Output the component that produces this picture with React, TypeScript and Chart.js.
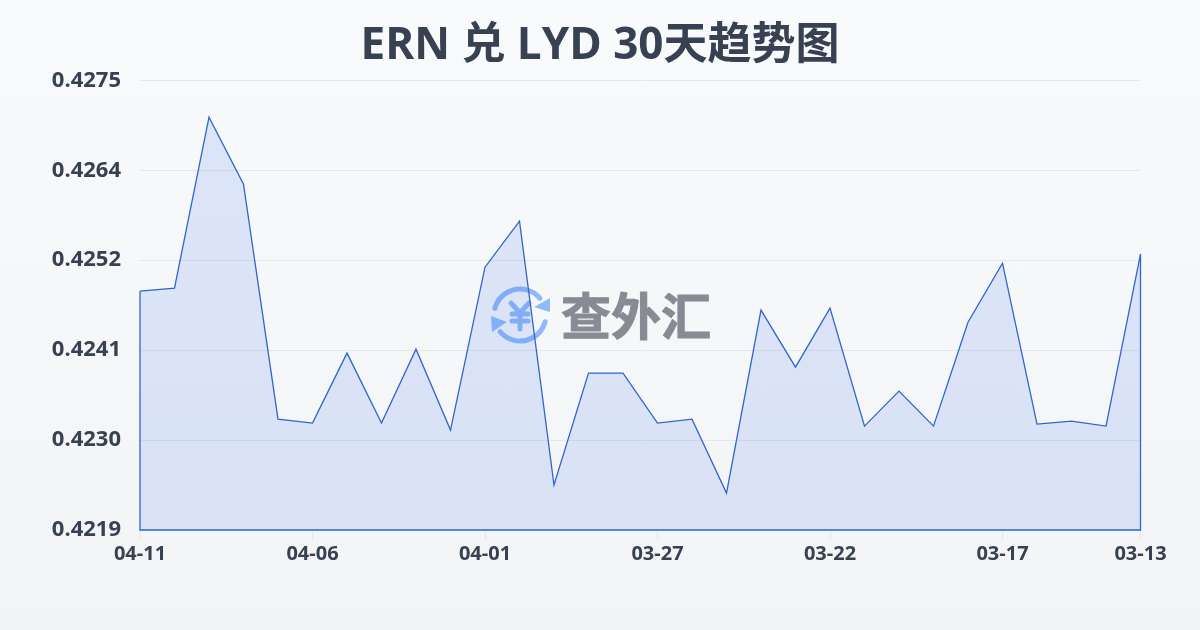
import React, { useEffect, useRef } from "react";
import { Chart, registerables } from "chart.js";

Chart.register(...registerables);

const titleText = "ERN 兑 LYD 30天趋势图";
const watermarkText = "查外汇";
const dates = [
  "04-11", "04-10", "04-09", "04-08", "04-07", "04-06", "04-05", "04-04", "04-03", "04-02",
  "04-01", "03-31", "03-30", "03-29", "03-28", "03-27", "03-26", "03-25", "03-24", "03-23",
  "03-22", "03-21", "03-20", "03-19", "03-18", "03-17", "03-16", "03-15", "03-14", "03-13",
];
const shownDates = ["04-11", "04-06", "04-01", "03-27", "03-22", "03-17", "03-13"];
const rates = [
  0.424874, 0.424912, 0.42704, 0.426206, 0.423281, 0.423232, 0.424103, 0.423232, 0.424152, 0.423144,
  0.425173, 0.425745, 0.42246, 0.423854, 0.423854, 0.423232, 0.423281, 0.42236, 0.424638, 0.423928,
  0.424663, 0.423194, 0.42363, 0.423194, 0.424488, 0.425223, 0.423219, 0.423256, 0.423194, 0.425335,
];
const yTickLabels = ["0.4219", "0.4230", "0.4241", "0.4252", "0.4264", "0.4275"];
const yMin = 0.4219;
const yMax = 0.4275;

const LATIN = '"Open Sans", "Noto Sans CJK SC", sans-serif';
const TEXT = "#374151";
const LINE = "#2f65cc";

const watermark = {
  id: "watermark",
  afterLayout(chart: any) {
    const t = chart.titleBlock;
    if (t) {
      t.left = 0;
      t.right = 1200;
      t.width = 1200;
    }
  },
  beforeDatasetsDraw(chart: any) {
    const c = chart.ctx;
    c.save();
    const cx = 520, cy = 315, r = 26;
    c.strokeStyle = "#8fb9f9";
    c.fillStyle = "#8fb9f9";
    c.lineWidth = 5;
    c.lineCap = "round";
    c.lineJoin = "round";
    c.beginPath();
    c.arc(cx, cy, r, (-165 * Math.PI) / 180, (-40 * Math.PI) / 180);
    c.stroke();
    c.beginPath();
    c.arc(cx, cy, r, (15 * Math.PI) / 180, (140 * Math.PI) / 180);
    c.stroke();
    c.beginPath();
    c.moveTo(550, 298);
    c.lineTo(550, 312);
    c.lineTo(534, 307);
    c.closePath();
    c.fill();
    c.beginPath();
    c.moveTo(491, 316);
    c.lineTo(507, 322);
    c.lineTo(492, 332);
    c.closePath();
    c.fill();
    c.lineWidth = 5;
    c.beginPath();
    c.moveTo(511, 303);
    c.lineTo(520, 313);
    c.lineTo(529, 303);
    c.moveTo(520, 313);
    c.lineTo(520, 329);
    c.moveTo(512, 314);
    c.lineTo(528, 314);
    c.moveTo(512, 321);
    c.lineTo(528, 321);
    c.stroke();
    c.fillStyle = "#878b93";
    c.strokeStyle = "#878b93";
    c.lineWidth = 1;
    c.font = 'bold 50px "Noto Sans CJK SC", sans-serif';
    c.textAlign = "left";
    c.textBaseline = "middle";
    c.fillText(watermarkText, 561, 316);
    c.strokeText(watermarkText, 561, 316);
    c.restore();
  },
};

const closeArea = {
  id: "closeArea",
  afterDatasetsDraw(chart: any) {
    const c = chart.ctx;
    const pts = chart.getDatasetMeta(0).data;
    const first = pts[0];
    const last = pts[pts.length - 1];
    const base = chart.scales.y.getPixelForValue(yMin);
    c.save();
    c.strokeStyle = LINE;
    c.lineWidth = 1.3;
    c.beginPath();
    c.moveTo(first.x, first.y);
    c.lineTo(first.x, base);
    c.lineTo(last.x, base);
    c.lineTo(last.x, last.y);
    c.stroke();
    c.restore();
  },
};

export default function App() {
  const ref = useRef<HTMLCanvasElement>(null);
  useEffect(() => {
    const chart = new Chart(ref.current as HTMLCanvasElement, {
      type: "line",
      data: {
        labels: dates,
        datasets: [
          {
            data: rates,
            borderColor: LINE,
            borderWidth: 1.3,
            backgroundColor: "rgba(37,99,235,0.13)",
            fill: "origin",
            pointRadius: 0,
            tension: 0,
          },
        ],
      },
      options: {
        responsive: false,
        animation: false,
        layout: { padding: { left: 0, right: 59.5, top: 0, bottom: 0 } },
        plugins: {
          legend: { display: false },
          tooltip: { enabled: false },
          title: {
            display: true,
            text: titleText,
            color: TEXT,
            font: { family: LATIN, size: 44, weight: "bold" },
            padding: { top: 20, bottom: 7.5 },
          },
        },
        scales: {
          x: {
            type: "category",
            offset: false,
            grid: { drawOnChartArea: false, drawTicks: true, tickLength: 10, color: "#e5e7eb" },
            border: { display: false },
            afterBuildTicks(scale: any) {
              scale.ticks = scale.ticks.filter((t: any) => shownDates.includes(dates[t.value]));
            },
            ticks: {
              autoSkip: false,
              maxRotation: 0,
              minRotation: 0,
              padding: 2,
              color: TEXT,
              font: { family: LATIN, size: 20, weight: "bold" },
              callback(_v: any, i: number) {
                return shownDates[i];
              },
            },
            afterFit(scale: any) {
              scale.height = 100;
            },
          },
          y: {
            min: yMin,
            max: yMax,
            grid: { color: "#e5e7eb", lineWidth: 1, drawTicks: false },
            border: { display: false },
            ticks: {
              count: 6,
              padding: 19,
              color: TEXT,
              font: { family: LATIN, size: 22, weight: "bold" },
              callback(_v: any, i: number) {
                return yTickLabels[i];
              },
            },
            afterFit(scale: any) {
              scale.width = 140;
            },
          },
        },
      },
      plugins: [watermark, closeArea],
    } as any);
    return () => chart.destroy();
  }, []);
  return (
    <div
      style={{
        position: "fixed",
        left: 0,
        top: 0,
        width: 1200,
        height: 630,
        background: "linear-gradient(180deg, #f8fafc 0%, #f3f4f6 100%)",
      }}
    >
      <canvas ref={ref} width={1200} height={630} style={{ display: "block" }} />
    </div>
  );
}
